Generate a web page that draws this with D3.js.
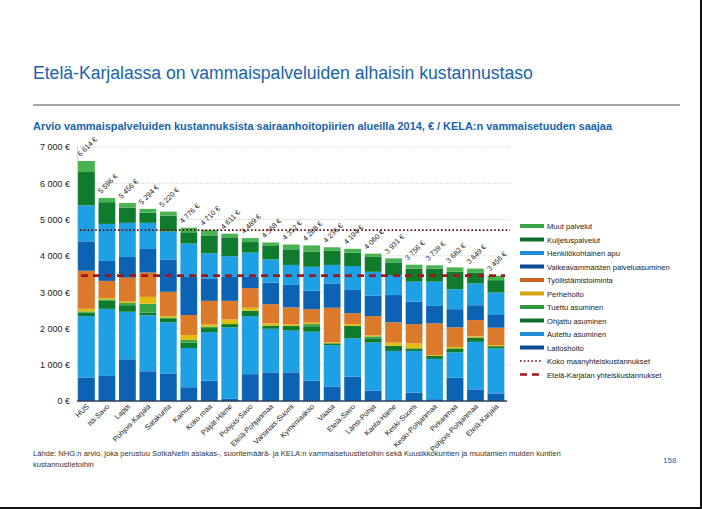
<!DOCTYPE html>
<html><head><meta charset="utf-8">
<script src="https://cdn.jsdelivr.net/npm/d3@7"></script>
<style>
html,body{margin:0;padding:0;background:#fff;}
svg{display:block;font-family:"Liberation Sans",Arial,sans-serif;}
</style></head>
<body>
<svg id="c" width="702" height="509"></svg>
<script>
const categories = ["HUS","Itä-Savo","Lappi","Pohjois-Karjala","Satakunta","Kainuu","Koko maa","Päijät-Häme","Pohjois-Savo","Etelä-Pohjanmaa","Varsinais-Suomi","Kymenlaakso","Vaasa","Etelä-Savo","Länsi-Pohja","Kanta-Häme","Keski-Suomi","Keski-Pohjanmaa","Pirkanmaa","Pohjois-Pohjanmaa","Etelä-Karjala"];
const totals = [6614,5596,5456,5294,5220,4776,4710,4611,4489,4368,4312,4288,4236,4194,4060,3931,3756,3739,3682,3649,3456];
const laitoshoito = [650,690,1150,820,760,380,560,60,740,790,790,560,390,670,280,0,230,50,640,320,210];
const autettuAsuminen = [1690,1850,1310,1540,1410,1080,1340,1970,1600,1200,1150,1350,1150,1060,1330,1380,1150,1110,700,1310,1240];
const ohjattuAsuminen = [100,220,180,80,90,150,110,90,150,90,130,150,50,340,120,140,70,80,110,120,60];
const tuettuAsuminen = [30,40,60,240,40,70,40,0,0,0,0,60,0,0,50,0,0,0,0,0,0];
const perhehoito = [70,40,40,190,40,140,60,130,80,60,40,40,30,50,30,90,140,20,40,30,30];
const tyollistamistoiminta = [1050,470,660,670,670,550,650,510,540,530,470,370,950,300,530,560,530,880,540,450,480];
const vaikeavammaisten = [810,550,570,650,890,1050,620,660,310,590,620,510,670,640,560,750,620,480,500,410,350];
const henkilokohtainenApu = [990,1020,940,720,770,920,690,570,670,640,550,660,510,660,660,550,550,670,550,600,620];
const kuljetuspalvelut = [920,600,420,280,440,310,480,520,290,390,430,420,390,370,410,350,360,360,480,290,340];
const muutPalvelut = [304,116,126,104,110,126,160,101,109,78,132,168,96,104,90,111,106,89,122,119,126];
const kokoMaaTotal = 4710;
const eteläKarjalaTotal = 3456;
const yTicks = [0,1000,2000,3000,4000,5000,6000,7000];

const seriesNames = ["Laitoshoito","Autettu asuminen","Ohjattu asuminen","Tuettu asuminen","Perhehoito","Työllistämistoiminta","Vaikeavammaisten palveluasuminen","Henkilökohtainen apu","Kuljetuspalvelut","Muut palvelut"];
const seriesValues = [laitoshoito,autettuAsuminen,ohjattuAsuminen,tuettuAsuminen,perhehoito,tyollistamistoiminta,vaikeavammaisten,henkilokohtainenApu,kuljetuspalvelut,muutPalvelut];
const seriesColors = ["#0d63b3","#1ea0e4","#0f7b2d","#3aa547","#e2bd10","#dc7a2c","#0d63b3","#1ea0e4","#0f7b2d","#48b350"];
const legendColors = ["#0c4a96","#1e8fd8","#0f6e2a","#2f9a40","#d4a814","#c8671f","#0c4a96","#1e8fd8","#0f6e2a","#3aa547"];

const svg = d3.select("#c");
const blue = "#1763ad";

// Header
svg.append("text").attr("x",33).attr("y",79).attr("fill",blue).attr("font-size",17.6).text("Etelä-Karjalassa on vammaispalveluiden alhaisin kustannustaso");
svg.append("line").attr("x1",33).attr("x2",680).attr("y1",105).attr("y2",105).attr("stroke","#a6a6a6").attr("stroke-width",2);
svg.append("text").attr("x",33).attr("y",130).attr("fill",blue).attr("font-size",11).attr("font-weight","bold").attr("textLength",579).attr("lengthAdjust","spacingAndGlyphs")
  .text("Arvio vammaispalveluiden kustannuksista sairaanhoitopiirien alueilla 2014, € / KELA:n vammaisetuuden saajaa");

// Scales
const x = d3.scaleBand().domain(categories).range([76.2,506.2]).paddingInner(0.18).paddingOuter(0.09);
const y = d3.scaleLinear().domain([0,7000]).range([401,147]);

// gridlines
svg.append("g").selectAll("line").data(yTicks.filter(d=>d>0)).join("line")
  .attr("x1",77).attr("x2",510).attr("y1",d=>y(d)).attr("y2",d=>y(d))
  .attr("stroke","#c8c8c8").attr("stroke-width",0.8).attr("stroke-dasharray","1.5,1.5");

// y axis
const yAxis = d3.axisLeft(y).tickValues(yTicks).tickSize(0).tickPadding(7)
  .tickFormat(d => (d===0?"0":d3.format(",")(d).replace(","," ")) + " €");
const ga = svg.append("g").attr("transform","translate(77,0)").call(yAxis);
ga.select(".domain").attr("stroke","#d0d0d0");
ga.selectAll("text").attr("font-size",9).attr("fill","#222").attr("font-family","Liberation Sans, Arial");

// stacked data
const rows = categories.map((c,i)=>{const o={cat:c}; seriesNames.forEach((s,j)=>o[s]=seriesValues[j][i]); return o;});
const stack = d3.stack().keys(seriesNames)(rows);
svg.append("g").selectAll("g").data(stack).join("g").attr("fill",(d,i)=>seriesColors[i])
  .selectAll("rect").data(d=>d).join("rect")
  .attr("x",d=>x(d.data.cat)).attr("width",x.bandwidth())
  .attr("y",d=>y(d[1])).attr("height",d=>Math.max(0,y(d[0])-y(d[1])));

// x axis baseline
const xAxis = d3.axisBottom(x).tickSize(0).tickPadding(0);
const gx = svg.append("g").attr("transform","translate(0,401)").call(xAxis);
gx.select(".domain").attr("stroke","#2a3f5f").attr("stroke-width",1.5).attr("d","M77,0H507");
gx.selectAll("text").attr("font-size",7.4).attr("fill","#222").attr("font-family","Liberation Sans, Arial")
  .attr("text-anchor","end").attr("dy",0).attr("y",0)
  .attr("transform","translate(3,6) rotate(-45)");

// value labels
svg.append("g").selectAll("text").data(categories).join("text")
  .attr("font-size",7.3).attr("fill","#222")
  .attr("transform",(d,i)=>`translate(${x(d)+x.bandwidth()/2-6},${y(totals[i])-4}) rotate(-45)`)
  .text((d,i)=>d3.format(",")(totals[i]).replace(","," ")+" €");

// reference lines
svg.append("line").attr("x1",80).attr("x2",510).attr("y1",y(kokoMaaTotal)).attr("y2",y(kokoMaaTotal))
  .attr("stroke","#5a0a0a").attr("stroke-width",1.6).attr("stroke-dasharray","1.6,2.2");
svg.append("line").attr("x1",81).attr("x2",505).attr("y1",y(eteläKarjalaTotal)).attr("y2",y(eteläKarjalaTotal))
  .attr("stroke","#a3161a").attr("stroke-width",2.6).attr("stroke-dasharray","7,5");

// legend
const legendItems = seriesNames.map((s,i)=>({name:s,color:legendColors[i],type:"bar"})).reverse();
legendItems.push({name:"Koko maanyhteiskustannukset",type:"dot"});
legendItems.push({name:"Etelä-Karjalan yhteiskustannukset",type:"dash"});
const lg = svg.append("g").attr("transform","translate(520,226)");
legendItems.forEach((it,i)=>{
  const g = lg.append("g").attr("transform",`translate(0,${i*13.5})`);
  if(it.type==="bar") g.append("rect").attr("x",0).attr("y",-2).attr("width",24).attr("height",4).attr("fill",it.color);
  else if(it.type==="dot") g.append("line").attr("x1",0).attr("x2",22).attr("stroke","#5a0a0a").attr("stroke-width",1.6).attr("stroke-dasharray","1.6,2.2");
  else g.append("line").attr("x1",0).attr("x2",24).attr("stroke","#a3161a").attr("stroke-width",2.4).attr("stroke-dasharray","7,5");
  g.append("text").attr("x",27).attr("y",3).attr("font-size",7.6).attr("fill","#222").text(it.name);
});

// footer
svg.append("text").attr("x",33).attr("y",456).attr("font-size",7.6).attr("fill","#333")
  .text("Lähde: NHG:n arvio, joka perustuu SotkaNetin asiakas-, suoritemäärä- ja KELA:n vammaisetuustietoihin sekä Kuusikkokuntien ja muutamien muiden kuntien");
svg.append("text").attr("x",33).attr("y",467).attr("font-size",7.6).attr("fill","#333").text("kustannustietoihin");
svg.append("text").attr("x",663).attr("y",463).attr("font-size",8).attr("fill",blue).text("158");

// frame edges
svg.append("line").attr("x1",701).attr("x2",701).attr("y1",0).attr("y2",509).attr("stroke","#111").attr("stroke-width",2);
svg.append("line").attr("x1",0).attr("x2",702).attr("y1",508).attr("y2",508).attr("stroke","#111").attr("stroke-width",2);
</script>
</body></html>
